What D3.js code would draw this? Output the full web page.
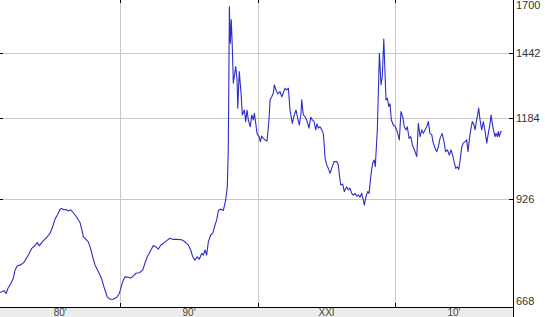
<!DOCTYPE html>
<html>
<head>
<meta charset="utf-8">
<script src="https://cdn.jsdelivr.net/npm/d3@7"></script>
<style>
  html, body { margin: 0; padding: 0; background: #fff; }
  svg { display: block; }
</style>
</head>
<body>
<svg id="chart" width="545" height="317"></svg>
<script>
// ---- data (decimal years, values) ----
const years = [
  1981.25,1981.54,1981.69,1981.83,1982.05,1982.22,1982.34,1982.51,1982.76,1983.00,
  1983.31,1983.56,1983.80,1983.96,1984.11,1984.28,1984.47,1984.69,1984.89,1985.08,
  1985.25,1985.42,1985.61,1985.74,1985.90,1986.05,1986.22,1986.39,1986.58,1986.83,
  1987.07,1987.19,1987.31,1987.50,1987.67,1987.85,1987.99,1988.16,1988.40,1988.65,
  1988.84,1989.05,1989.25,1989.49,1989.74,1989.93,1990.17,1990.34,1990.58,1990.76,
  1990.95,1991.14,1991.38,1991.63,1991.80,1991.96,1992.16,1992.40,1992.57,1992.76,
  1992.94,1993.13,1993.37,1993.61,1993.85,1994.14,1994.46,1994.70,1994.94,1995.12,
  1995.26,1995.43,1995.60,1995.74,1995.92,1996.04,1996.16,1996.28,1996.40,1996.57,
  1996.72,1996.89,1997.01,1997.13,1997.30,1997.49,1997.66,1997.78,1997.85,1997.90,
  1997.93,1998.00,1998.07,1998.15,1998.22,1998.39,1998.49,1998.54,1998.65,1998.78,
  1998.87,1999.02,1999.12,1999.21,1999.31,1999.45,1999.56,1999.67,1999.75,1999.85,
  1999.94,2000.09,2000.18,2000.28,2000.40,2000.52,2000.67,2000.81,2000.89,2001.01,
  2001.13,2001.20,2001.32,2001.45,2001.61,2001.74,2001.85,2001.98,2002.10,2002.22,
  2002.34,2002.51,2002.65,2002.78,2002.90,2003.02,2003.14,2003.19,2003.31,2003.43,
  2003.55,2003.72,2003.85,2003.96,2004.09,2004.21,2004.30,2004.40,2004.52,2004.65,
  2004.76,2004.84,2004.89,2005.01,2005.13,2005.25,2005.37,2005.54,2005.74,2005.85,
  2005.93,2006.03,2006.17,2006.29,2006.46,2006.58,2006.70,2006.83,2006.94,2007.07,
  2007.19,2007.31,2007.43,2007.55,2007.67,2007.74,2007.87,2007.99,2008.09,2008.21,
  2008.35,2008.47,2008.54,2008.69,2008.84,2008.96,2009.05,2009.16,2009.25,2009.32,
  2009.42,2009.52,2009.61,2009.71,2009.85,2010.00,2010.14,2010.29,2010.41,2010.54,
  2010.65,2010.78,2010.87,2011.00,2011.12,2011.24,2011.38,2011.56,2011.67,2011.80,
  2011.92,2012.04,2012.16,2012.28,2012.40,2012.52,2012.65,2012.76,2012.89,2013.01,
  2013.13,2013.25,2013.40,2013.54,2013.65,2013.78,2013.93,2014.05,2014.17,2014.27,
  2014.39,2014.51,2014.61,2014.70,2014.83,2014.94,2015.07,2015.19,2015.28,2015.38,
  2015.48,2015.60,2015.72,2015.80,2015.87,2015.96,2016.06,2016.16,2016.28,2016.40,
  2016.53,2016.65,2016.76,2016.89,2016.96,2017.05,2017.13,2017.25,2017.32,2017.42,
  2017.49,2017.56,2017.66,2017.74
];
const values = [
  698,702,696,707,718,729,747,757,759,765,
  782,798,805,812,804,812,819,827,835,852,
  872,883,898,901,897,898,894,897,889,877,
  863,846,827,820,814,796,778,759,744,727,
  707,689,684,684,688,696,721,732,731,729,
  734,740,741,747,764,778,790,805,802,796,
  806,810,817,823,820,820,819,814,806,794,
  778,770,778,772,786,782,794,782,814,831,
  835,857,870,895,899,895,924,962,1076,1385,
  1661,1487,1596,1457,1317,1385,1330,1221,1364,1278,
  1196,1214,1172,1214,1178,1154,1196,1178,1202,1166,
  1131,1120,1103,1122,1114,1109,1105,1178,1252,1264,
  1278,1310,1290,1275,1284,1264,1278,1297,1290,1297,
  1214,1166,1196,1214,1184,1160,1202,1252,1196,1190,
  1178,1149,1188,1178,1172,1143,1164,1149,1154,1143,
  1131,1086,1049,1028,1017,1002,1017,1038,1038,1028,
  997,967,970,948,962,953,958,943,938,943,
  935,938,932,943,924,910,934,948,943,992,
  1033,1043,1022,1143,1442,1310,1343,1505,1357,1252,
  1258,1227,1237,1178,1160,1154,1137,1109,1208,1188,
  1154,1143,1154,1114,1120,1092,1076,1054,1166,1120,
  1143,1131,1143,1154,1172,1131,1126,1098,1081,1070,
  1086,1114,1131,1103,1070,1076,1059,1076,1059,1038,
  1017,1022,1014,1038,1086,1098,1103,1109,1070,1109,
  1143,1172,1160,1143,1166,1190,1221,1178,1143,1172,
  1137,1098,1131,1166,1196,1166,1143,1120,1131,1120,
  1137,1120,1137,1137
];
const yTicks = [668, 926, 1184, 1442, 1700];
const yTickLabels = ["668", "926", "1184", "1442", "1700"];
const decadeStarts = [1980, 1990, 2000, 2010];
const decadeLabels = ["80'", "90'", "XXI", "10'"];

// ---- layout ----
const W = 545, H = 317;
const plotRight = 512.5, axisY = 307;
const xStart = 1981.25, xEnd = 2018.52;

const svg = d3.select("#chart");
const x = d3.scaleLinear().domain([xStart, xEnd]).range([0, plotRight]);
const y = d3.scaleLog().domain([668, 1700]).range([axisY, -1]);

// bottom gray band
svg.append("rect").attr("x", 0).attr("y", axisY + 1).attr("width", plotRight).attr("height", H - axisY - 1)
  .attr("fill", "#ececec");

// grid
const grid = svg.append("g").attr("stroke", "#c8c8c8").attr("stroke-width", 1).attr("shape-rendering", "crispEdges");
yTicks.filter(v => v > 668 && v < 1700).forEach(v => {
  grid.append("line").attr("x1", 0).attr("x2", plotRight).attr("y1", Math.round(y(v)) + 0.5).attr("y2", Math.round(y(v)) + 0.5);
});
decadeStarts.filter(d => d > xStart).forEach(d => {
  grid.append("line").attr("y1", 0).attr("y2", axisY).attr("x1", Math.round(x(d)) + 0.5).attr("x2", Math.round(x(d)) + 0.5);
});

// small tick marks
const ticks = svg.append("g").attr("stroke", "#000").attr("stroke-width", 1).attr("shape-rendering", "crispEdges");
decadeStarts.filter(d => d > xStart).forEach(d => {
  const xx = Math.round(x(d)) + 0.5;
  ticks.append("line").attr("x1", xx).attr("x2", xx).attr("y1", 0).attr("y2", 3);
  ticks.append("line").attr("x1", xx).attr("x2", xx).attr("y1", axisY - 4).attr("y2", axisY);
});
yTicks.filter(v => v > 668 && v < 1700).forEach(v => {
  const yy = Math.round(y(v)) + 0.5;
  ticks.append("line").attr("x1", 0).attr("x2", 3).attr("y1", yy).attr("y2", yy);
  ticks.append("line").attr("x1", plotRight - 4).attr("x2", plotRight).attr("y1", yy).attr("y2", yy);
});

// line
svg.append("defs").append("clipPath").attr("id", "clip")
  .append("rect").attr("x", 0).attr("y", 0).attr("width", plotRight).attr("height", axisY);
const pts = years.map((yr, i) => [yr, values[i]]);
const line = d3.line().x(d => x(d[0])).y(d => y(d[1]));
svg.append("path").datum(pts).attr("clip-path", "url(#clip)")
  .attr("fill", "none").attr("stroke", "#2d2dc8").attr("stroke-width", 1.1)
  .attr("stroke-linejoin", "round").attr("d", line);

// axes lines
svg.append("line").attr("x1", 0).attr("x2", plotRight).attr("y1", axisY + 0.5).attr("y2", axisY + 0.5)
  .attr("stroke", "#000").attr("shape-rendering", "crispEdges");
svg.append("line").attr("x1", Math.round(plotRight) + 0.5).attr("x2", Math.round(plotRight) + 0.5).attr("y1", 0).attr("y2", H)
  .attr("stroke", "#000").attr("shape-rendering", "crispEdges");

// y labels
svg.append("g").selectAll("text").data(yTicks).join("text")
  .attr("x", 516)
  .attr("y", v => Math.max(5, Math.min(301, y(v))))
  .attr("dy", "0.35em")
  .attr("font-family", "Liberation Sans, Arial, sans-serif")
  .attr("font-size", 11).attr("fill", "#333")
  .text((v, i) => yTickLabels[i]);

// x labels, centred in visible part of each decade
svg.append("g").selectAll("text").data(decadeStarts).join("text")
  .attr("x", d => (x(Math.max(d, xStart)) + Math.min(x(d + 10), plotRight)) / 2)
  .attr("y", 316)
  .attr("text-anchor", "middle")
  .attr("font-family", "Liberation Sans, Arial, sans-serif")
  .attr("font-size", 10).attr("fill", "#444")
  .text((d, i) => decadeLabels[i]);
</script>
</body>
</html>
